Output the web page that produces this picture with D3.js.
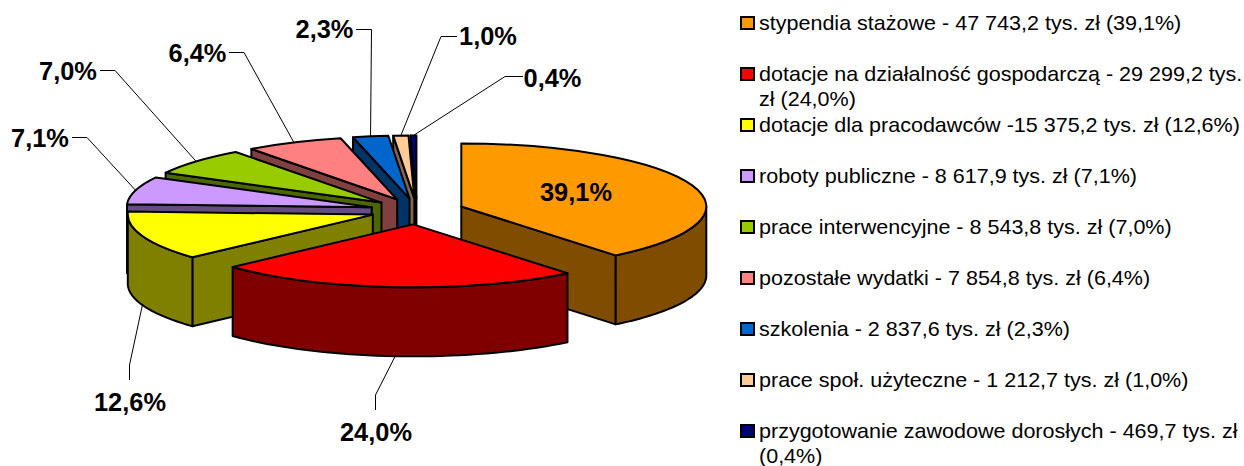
<!DOCTYPE html>
<html><head><meta charset="utf-8">
<script src="https://cdn.jsdelivr.net/npm/d3@7"></script>
<style>
html,body{margin:0;padding:0;background:#fff;overflow:hidden}
svg{display:block}
text{font-family:"Liberation Sans",Arial,sans-serif;fill:#000}
</style></head><body>
<script>
// ---- data ----
const categories = ["stypendia stażowe","dotacje na działalność gospodarczą","dotacje dla pracodawców","roboty publiczne","prace interwencyjne","pozostałe wydatki","szkolenia","prace społ. użyteczne","przygotowanie zawodowe dorosłych"];
const values = [47743.2,29299.2,15375.2,8617.9,8543.8,7854.8,2837.6,1212.7,469.7];
const percentLabels = ["39,1%","24,0%","12,6%","7,1%","7,0%","6,4%","2,3%","1,0%","0,4%"];
const legendLines = [
  ["stypendia stażowe - 47 743,2 tys. zł (39,1%)"],
  ["dotacje na działalność gospodarczą - 29 299,2 tys.","zł (24,0%)"],
  ["dotacje dla pracodawców -15 375,2 tys. zł (12,6%)"],
  ["roboty publiczne - 8 617,9 tys. zł (7,1%)"],
  ["prace interwencyjne - 8 543,8 tys. zł (7,0%)"],
  ["pozostałe wydatki - 7 854,8 tys. zł (6,4%)"],
  ["szkolenia - 2 837,6 tys. zł (2,3%)"],
  ["prace społ. użyteczne - 1 212,7 tys. zł (1,0%)"],
  ["przygotowanie zawodowe dorosłych - 469,7 tys. zł","(0,4%)"]
];
const topColors = ["#FF9900","#FF0000","#FFFF00","#CC99FF","#99CC00","#FF8080","#0066CC","#FFCC99","#000080"];
const sideColors = ["#804D00","#800000","#808000","#664D80","#4D6600","#804040","#003366","#80664D","#000040"];
// ---- layout ----
const W=1244,H=466,cx=417,cy=210.5,rx=245,ry=63,depth=69,ratio=ry/rx;
const explode=[47,54,47,47,47,47,47,47,47];
const drawOrder=[8,7,6,5,4,3,2,0,1];
const labelPos=[[576,192],[376,432],[130,402],[40,138],[68,71],[197.5,53],[324.5,29],[488,36],[552.5,78]];
const leaderElbows=[null,[[375.5,410],[375.5,395]],[[129.5,380],[129.5,365]],[[72,137.5],[87,137.5]],[[100,70.5],[115,70.5]],[[229,52.5],[244,52.5]],[[356,29.5],[371.5,29.5]],[[457,36.5],[441,36.5]],[[523,76.5],[505,76.5]]];
const legendFont=20, legendStretch=1.077;

const svg=d3.select("body").append("svg").attr("width",W).attr("height",H);
const arcs=d3.pie().sort(null).value(d=>d)(values);
const arcGen=d3.arc().innerRadius(0).outerRadius(rx);
const lineGen=d3.line();

const slices=arcs.map((a,i)=>{
  const mid=(a.startAngle+a.endAngle)/2;
  const ax=cx+explode[i]*Math.sin(mid), ay=cy-explode[i]*Math.cos(mid)*ratio;
  const pt=(ang,dz=0)=>[ax+rx*Math.sin(ang), ay-ry*Math.cos(ang)+dz];
  return {a,i,mid,ax,ay,pt};
});

const pieG=svg.append("g").attr("stroke","#000").attr("stroke-width",2).attr("stroke-linejoin","round");
drawOrder.forEach(i=>{
  const s=slices[i],a=s.a,g=pieG.append("g");
  const wall=ang=>[[s.ax,s.ay],s.pt(ang),s.pt(ang,depth),[s.ax,s.ay+depth]];
  if(Math.sin(a.startAngle)<-1e-6)
    g.append("path").attr("d",lineGen(wall(a.startAngle))+"Z").attr("fill",sideColors[i]);
  if(Math.sin(a.endAngle)>1e-6)
    g.append("path").attr("d",lineGen(wall(a.endAngle))+"Z").attr("fill",sideColors[i]);
  const lo=Math.max(a.startAngle,Math.PI/2),hi=Math.min(a.endAngle,Math.PI*1.5);
  if(hi>lo){
    const angs=d3.range(41).map(k=>lo+(hi-lo)*k/40);
    const pts=angs.map(t=>s.pt(t)).concat(angs.slice().reverse().map(t=>s.pt(t,depth)));
    g.append("path").attr("d",lineGen(pts)+"Z").attr("fill",sideColors[i]);
  }
  g.append("path").attr("d",arcGen(a))
    .attr("transform",`translate(${s.ax},${s.ay}) scale(1,${ratio})`)
    .attr("vector-effect","non-scaling-stroke").attr("fill",topColors[i]);
});

const leaderG=svg.append("g").attr("fill","none").attr("stroke","#000").attr("stroke-width",1);
slices.forEach(s=>{
  const el=leaderElbows[s.i]; if(!el) return;
  const front=Math.cos(s.mid)<0;
  const anchor=s.pt(s.mid,front?depth:0);
  leaderG.append("path").attr("d",lineGen([...el,anchor]));
});

svg.append("g").selectAll("text").data(percentLabels).join("text")
  .attr("x",(d,i)=>labelPos[i][0]).attr("y",(d,i)=>labelPos[i][1]+8.8)
  .attr("text-anchor","middle").attr("font-size",25.4).attr("font-weight","bold").text(d=>d);

const legendY=d3.scaleLinear().domain([0,1]).range([30,81]);
const lg=svg.append("g").selectAll("g").data(legendLines).join("g");
lg.append("rect").attr("x",741).attr("y",(d,i)=>legendY(i)-13).attr("width",13).attr("height",12)
  .attr("fill",(d,i)=>topColors[i]).attr("stroke","#000").attr("stroke-width",2);
lg.append("text").attr("font-size",legendFont)
  .attr("transform",(d,i)=>`translate(759,${legendY(i)}) scale(${legendStretch},1)`)
  .each(function(lines){
    d3.select(this).selectAll("tspan").data(lines).join("tspan")
      .attr("x",0).attr("y",(l,k)=>k*25).text(l=>l);
  });
</script></body></html>
